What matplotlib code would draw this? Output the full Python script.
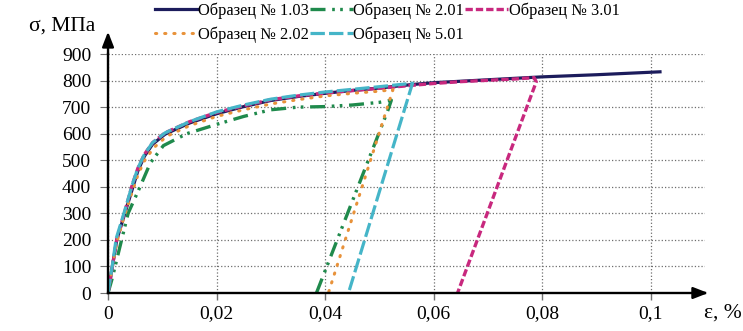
import numpy as np
import matplotlib
matplotlib.use('Agg')
import matplotlib.pyplot as plt
from matplotlib.ticker import FuncFormatter

plt.rcParams['font.family'] = ['Liberation Serif', 'DejaVu Serif']

# strain (%) / stress (MPa) curves
eps_103 = [0, 0.0008, 0.0016, 0.0031, 0.0046, 0.0055, 0.0067, 0.0082, 0.0105, 0.015, 0.02,
           0.025, 0.03, 0.035, 0.04, 0.045, 0.05, 0.056, 0.06, 0.07, 0.08, 0.09, 0.1017]
sig_103 = [0, 100, 200, 300, 400, 460, 515, 560, 598, 640, 675,
           702, 725, 740, 752, 763, 772, 785, 792, 803, 814, 822, 833]

eps_201 = [0, 0.0007, 0.0013, 0.0025, 0.0037, 0.0048, 0.0059, 0.0078, 0.0102, 0.0145, 0.02,
           0.025, 0.03, 0.035, 0.04, 0.045, 0.05, 0.0522, 0.0516, 0.0384]
sig_201 = [0, 50, 100, 200, 300, 350, 400, 490, 555, 600, 635,
           665, 690, 700, 702, 708, 718, 726, 690, 0]

eps_301 = [0, 0.0008, 0.0016, 0.003, 0.0045, 0.0055, 0.0067, 0.0082, 0.0105, 0.015, 0.02,
           0.025, 0.03, 0.035, 0.04, 0.045, 0.05, 0.056, 0.06, 0.065, 0.07, 0.075, 0.0785,
           0.0789, 0.0644]
sig_301 = [0, 100, 200, 300, 410, 470, 522, 566, 603, 645, 680,
           705, 728, 742, 753, 762, 771, 782, 789, 796, 801, 806, 811,
           795, 0]

eps_202 = [0, 0.0008, 0.0016, 0.003, 0.0046, 0.0056, 0.0069, 0.0086, 0.0108, 0.015, 0.02,
           0.025, 0.03, 0.035, 0.04, 0.045, 0.05, 0.0525, 0.0406]
sig_202 = [0, 100, 190, 290, 390, 450, 505, 550, 590, 630, 665,
           690, 712, 728, 742, 752, 760, 766, 0]

eps_501 = [0, 0.0008, 0.0015, 0.003, 0.0045, 0.0055, 0.0067, 0.0082, 0.0105, 0.015, 0.02,
           0.025, 0.03, 0.035, 0.04, 0.045, 0.05, 0.0561, 0.0443]
sig_501 = [0, 105, 205, 305, 410, 470, 522, 566, 603, 645, 682,
           708, 730, 745, 757, 767, 777, 790, 0]

x_ticks = [0, 0.02, 0.04, 0.06, 0.08, 0.1]
y_ticks = list(range(0, 901, 100))

fig = plt.figure(figsize=(7.43, 3.31), dpi=100)
ax = fig.add_axes([0.1454, 0.1148, 0.8035, 0.722])

l1, = ax.plot(eps_103, sig_103, color='#1c1c5c', lw=2.3, label='Образец № 1.03')
l2, = ax.plot(eps_201, sig_201, color='#1f8a4c', lw=2.4,
              dashes=(4.5, 2, 0.8, 1.6, 0.8, 2), label='Образец № 2.01')
l3, = ax.plot(eps_301, sig_301, color='#c8287e', lw=2.4, dashes=(2.2, 0.9), label='Образец № 3.01')
l4, = ax.plot(eps_202, sig_202, color='#e8923a', lw=2.2, dashes=(0.4, 2.6),
              dash_capstyle='round', label='Образец № 2.02')
l5, = ax.plot(eps_501, sig_501, color='#45b5c8', lw=2.3, dashes=(4.5, 1.3), label='Образец № 5.01')

ax.set_xlim(0, 0.11)
ax.set_ylim(0, 900)
ax.set_xticks(x_ticks)
ax.set_yticks(y_ticks)
ax.xaxis.set_major_formatter(FuncFormatter(lambda v, p: ('%g' % v).replace('.', ',')))
ax.tick_params(axis='both', labelsize=14, color='#707070')
ax.tick_params(axis='x', length=5, width=1, pad=4)
ax.tick_params(axis='y', length=6, width=0.8, pad=6)
ax.grid(True, color='#6e6e6e', linestyle=':', linewidth=0.9)
ax.set_axisbelow(True)

for s in ['top', 'right']:
    ax.spines[s].set_visible(False)
for s in ['left', 'bottom']:
    ax.spines[s].set_linewidth(1.7)

# axis arrows
ax.annotate('', xy=(1.01, 0), xytext=(0.98, 0), xycoords='axes fraction',
            arrowprops=dict(arrowstyle='-|>,head_length=0.9,head_width=0.35',
                            color='black', lw=1.7), annotation_clip=False)
ax.annotate('', xy=(0, 1.105), xytext=(0, 0.99), xycoords='axes fraction',
            arrowprops=dict(arrowstyle='-|>,head_length=0.9,head_width=0.35',
                            color='black', lw=1.7), annotation_clip=False)

fig.text(0.084, 0.92, 'σ, МПа', fontsize=15.5, ha='center', va='center')
fig.text(0.948, 0.055, 'ε, %', fontsize=15.5, ha='left', va='center')

fig.legend(handles=[l1, l4, l2, l5, l3], loc='upper left', bbox_to_anchor=(0.204, 1.003),
           ncol=3, frameon=False, fontsize=11.8, handlelength=2.6, handletextpad=0.05,
           columnspacing=0.05, labelspacing=0.48, borderpad=0.2, borderaxespad=0)

fig.savefig('out.png', dpi=100)
